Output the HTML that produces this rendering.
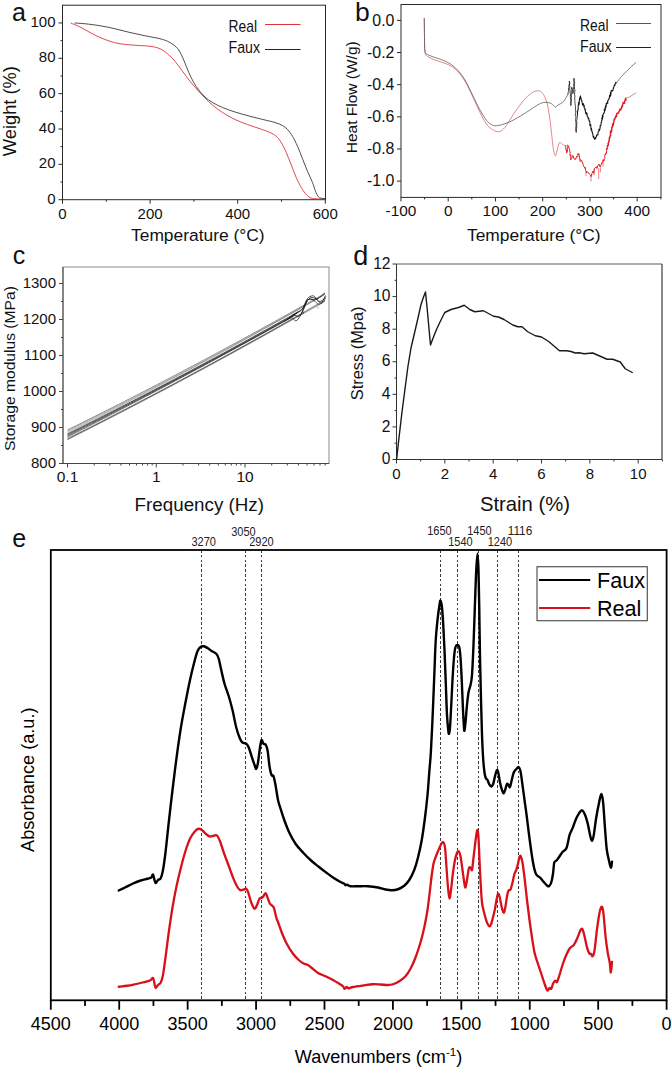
<!DOCTYPE html>
<html lang="en"><head><meta charset="utf-8"><title>Figure</title>
<style>
html,body{margin:0;padding:0;background:#fff;}
body{width:672px;height:1068px;overflow:hidden;font-family:"Liberation Sans",Arial,sans-serif;}
svg{display:block;}
svg text{font-family:"Liberation Sans",Arial,sans-serif;}
</style></head><body>
<svg width="672" height="1068" viewBox="0 0 672 1068" font-family='Liberation Sans, Arial, sans-serif'>
<rect x="62.50" y="5.20" width="263.00" height="194.50" fill="none" stroke="#2a2a2a" stroke-width="1"/>
<line x1="62.50" y1="199.70" x2="62.50" y2="203.70" stroke="#2a2a2a" stroke-width="1" />
<text x="62.50" y="219.20" font-size="15" text-anchor="middle" fill="#111" >0</text>
<line x1="106.30" y1="199.70" x2="106.30" y2="201.70" stroke="#2a2a2a" stroke-width="1" />
<line x1="150.10" y1="199.70" x2="150.10" y2="203.70" stroke="#2a2a2a" stroke-width="1" />
<text x="150.10" y="219.20" font-size="15" text-anchor="middle" fill="#111" >200</text>
<line x1="193.90" y1="199.70" x2="193.90" y2="201.70" stroke="#2a2a2a" stroke-width="1" />
<line x1="237.70" y1="199.70" x2="237.70" y2="203.70" stroke="#2a2a2a" stroke-width="1" />
<text x="237.70" y="219.20" font-size="15" text-anchor="middle" fill="#111" >400</text>
<line x1="281.50" y1="199.70" x2="281.50" y2="201.70" stroke="#2a2a2a" stroke-width="1" />
<line x1="325.30" y1="199.70" x2="325.30" y2="203.70" stroke="#2a2a2a" stroke-width="1" />
<text x="325.30" y="219.20" font-size="15" text-anchor="middle" fill="#111" >600</text>
<line x1="58.50" y1="199.70" x2="62.50" y2="199.70" stroke="#2a2a2a" stroke-width="1" />
<text x="55.50" y="203.60" font-size="15" text-anchor="end" fill="#111" >0</text>
<line x1="60.50" y1="182.02" x2="62.50" y2="182.02" stroke="#2a2a2a" stroke-width="1" />
<line x1="58.50" y1="164.35" x2="62.50" y2="164.35" stroke="#2a2a2a" stroke-width="1" />
<text x="55.50" y="168.25" font-size="15" text-anchor="end" fill="#111" >20</text>
<line x1="60.50" y1="146.67" x2="62.50" y2="146.67" stroke="#2a2a2a" stroke-width="1" />
<line x1="58.50" y1="129.00" x2="62.50" y2="129.00" stroke="#2a2a2a" stroke-width="1" />
<text x="55.50" y="132.90" font-size="15" text-anchor="end" fill="#111" >40</text>
<line x1="60.50" y1="111.32" x2="62.50" y2="111.32" stroke="#2a2a2a" stroke-width="1" />
<line x1="58.50" y1="93.65" x2="62.50" y2="93.65" stroke="#2a2a2a" stroke-width="1" />
<text x="55.50" y="97.55" font-size="15" text-anchor="end" fill="#111" >60</text>
<line x1="60.50" y1="75.97" x2="62.50" y2="75.97" stroke="#2a2a2a" stroke-width="1" />
<line x1="58.50" y1="58.30" x2="62.50" y2="58.30" stroke="#2a2a2a" stroke-width="1" />
<text x="55.50" y="62.20" font-size="15" text-anchor="end" fill="#111" >80</text>
<line x1="60.50" y1="40.62" x2="62.50" y2="40.62" stroke="#2a2a2a" stroke-width="1" />
<line x1="58.50" y1="22.95" x2="62.50" y2="22.95" stroke="#2a2a2a" stroke-width="1" />
<text x="55.50" y="26.85" font-size="15" text-anchor="end" fill="#111" >100</text>
<path d="M70.75 23.00C72.29 23.67 76.79 25.42 80.00 27.00C83.21 28.58 86.67 30.75 90.00 32.50C93.33 34.25 96.67 36.04 100.00 37.50C103.33 38.96 106.67 40.21 110.00 41.25C113.33 42.29 115.83 43.08 120.00 43.75C124.17 44.42 130.00 44.83 135.00 45.25C140.00 45.67 145.83 45.67 150.00 46.25C154.17 46.83 157.08 47.50 160.00 48.75C162.92 50.00 165.00 51.67 167.50 53.75C170.00 55.83 172.50 58.33 175.00 61.25C177.50 64.17 180.00 67.92 182.50 71.25C185.00 74.58 187.50 78.12 190.00 81.25C192.50 84.38 195.00 87.21 197.50 90.00C200.00 92.79 202.50 95.50 205.00 98.00C207.50 100.50 209.58 102.58 212.50 105.00C215.42 107.42 218.75 110.08 222.50 112.50C226.25 114.92 230.83 117.50 235.00 119.50C239.17 121.50 243.33 122.96 247.50 124.50C251.67 126.04 256.25 127.42 260.00 128.75C263.75 130.08 267.29 131.25 270.00 132.50C272.71 133.75 274.38 134.58 276.25 136.25C278.12 137.92 279.58 139.79 281.25 142.50C282.92 145.21 284.58 148.75 286.25 152.50C287.92 156.25 289.58 160.83 291.25 165.00C292.92 169.17 294.58 173.75 296.25 177.50C297.92 181.25 299.58 184.67 301.25 187.50C302.92 190.33 304.79 192.83 306.25 194.50C307.71 196.17 308.54 196.79 310.00 197.50C311.46 198.21 312.50 198.50 315.00 198.75C317.50 199.00 323.33 198.96 325.00 199.00" fill="none" stroke="#e0323a" stroke-width="0.9"/>
<path d="M74.50 23.00C76.25 23.12 80.75 23.29 85.00 23.75C89.25 24.21 95.00 24.92 100.00 25.75C105.00 26.58 110.00 27.62 115.00 28.75C120.00 29.88 125.00 31.33 130.00 32.50C135.00 33.67 140.00 34.71 145.00 35.75C150.00 36.79 156.25 37.83 160.00 38.75C163.75 39.67 165.21 40.21 167.50 41.25C169.79 42.29 171.88 43.54 173.75 45.00C175.62 46.46 177.08 47.50 178.75 50.00C180.42 52.50 182.08 56.25 183.75 60.00C185.42 63.75 187.08 68.75 188.75 72.50C190.42 76.25 192.08 79.58 193.75 82.50C195.42 85.42 196.88 87.58 198.75 90.00C200.62 92.42 202.71 94.92 205.00 97.00C207.29 99.08 209.58 100.75 212.50 102.50C215.42 104.25 218.75 105.92 222.50 107.50C226.25 109.08 230.42 110.54 235.00 112.00C239.58 113.46 245.00 114.92 250.00 116.25C255.00 117.58 260.83 118.96 265.00 120.00C269.17 121.04 272.08 121.58 275.00 122.50C277.92 123.42 280.42 124.33 282.50 125.50C284.58 126.67 285.83 127.71 287.50 129.50C289.17 131.29 290.83 133.46 292.50 136.25C294.17 139.04 295.83 142.50 297.50 146.25C299.17 150.00 300.83 154.58 302.50 158.75C304.17 162.92 305.83 167.29 307.50 171.25C309.17 175.21 311.17 179.17 312.50 182.50C313.83 185.83 314.58 188.96 315.50 191.25C316.42 193.54 317.17 195.12 318.00 196.25C318.83 197.38 319.33 197.58 320.50 198.00C321.67 198.42 324.25 198.62 325.00 198.75" fill="none" stroke="#3a3a3a" stroke-width="0.9"/>
<text x="228.50" y="32.00" font-size="16.6" text-anchor="start" fill="#111" textLength="28.5" lengthAdjust="spacingAndGlyphs">Real</text>
<line x1="265.00" y1="24.50" x2="300.50" y2="24.50" stroke="#e0323a" stroke-width="1.1" />
<text x="228.50" y="53.00" font-size="16.6" text-anchor="start" fill="#111" textLength="31.5" lengthAdjust="spacingAndGlyphs">Faux</text>
<line x1="265.00" y1="49.50" x2="300.50" y2="49.50" stroke="#222" stroke-width="1.1" />
<text x="197.80" y="241.20" font-size="17.4" text-anchor="middle" fill="#111" >Temperature (°C)</text>
<text transform="translate(15.80 111.10) rotate(-90)" font-size="18.3" text-anchor="middle" fill="#111" >Weight (%)</text>
<text x="12.00" y="20.60" font-size="25" text-anchor="start" fill="#111" >a</text>
<rect x="401.00" y="4.50" width="260.00" height="192.90" fill="none" stroke="#2a2a2a" stroke-width="1"/>
<line x1="400.95" y1="197.40" x2="400.95" y2="201.40" stroke="#2a2a2a" stroke-width="1" />
<text x="400.95" y="215.50" font-size="15.4" text-anchor="middle" fill="#111" >-100</text>
<line x1="424.57" y1="197.40" x2="424.57" y2="199.40" stroke="#2a2a2a" stroke-width="1" />
<line x1="448.20" y1="197.40" x2="448.20" y2="201.40" stroke="#2a2a2a" stroke-width="1" />
<text x="448.20" y="215.50" font-size="15.4" text-anchor="middle" fill="#111" >0</text>
<line x1="471.82" y1="197.40" x2="471.82" y2="199.40" stroke="#2a2a2a" stroke-width="1" />
<line x1="495.45" y1="197.40" x2="495.45" y2="201.40" stroke="#2a2a2a" stroke-width="1" />
<text x="495.45" y="215.50" font-size="15.4" text-anchor="middle" fill="#111" >100</text>
<line x1="519.08" y1="197.40" x2="519.08" y2="199.40" stroke="#2a2a2a" stroke-width="1" />
<line x1="542.70" y1="197.40" x2="542.70" y2="201.40" stroke="#2a2a2a" stroke-width="1" />
<text x="542.70" y="215.50" font-size="15.4" text-anchor="middle" fill="#111" >200</text>
<line x1="566.33" y1="197.40" x2="566.33" y2="199.40" stroke="#2a2a2a" stroke-width="1" />
<line x1="589.95" y1="197.40" x2="589.95" y2="201.40" stroke="#2a2a2a" stroke-width="1" />
<text x="589.95" y="215.50" font-size="15.4" text-anchor="middle" fill="#111" >300</text>
<line x1="613.58" y1="197.40" x2="613.58" y2="199.40" stroke="#2a2a2a" stroke-width="1" />
<line x1="637.20" y1="197.40" x2="637.20" y2="201.40" stroke="#2a2a2a" stroke-width="1" />
<text x="637.20" y="215.50" font-size="15.4" text-anchor="middle" fill="#111" >400</text>
<line x1="660.83" y1="197.40" x2="660.83" y2="199.40" stroke="#2a2a2a" stroke-width="1" />
<line x1="397.00" y1="20.40" x2="401.00" y2="20.40" stroke="#2a2a2a" stroke-width="1" />
<text x="394.40" y="25.60" font-size="15.9" text-anchor="end" fill="#111" >0.0</text>
<line x1="397.00" y1="52.55" x2="401.00" y2="52.55" stroke="#2a2a2a" stroke-width="1" />
<text x="394.40" y="57.75" font-size="15.9" text-anchor="end" fill="#111" >-0.2</text>
<line x1="397.00" y1="84.70" x2="401.00" y2="84.70" stroke="#2a2a2a" stroke-width="1" />
<text x="394.40" y="89.90" font-size="15.9" text-anchor="end" fill="#111" >-0.4</text>
<line x1="397.00" y1="116.85" x2="401.00" y2="116.85" stroke="#2a2a2a" stroke-width="1" />
<text x="394.40" y="122.05" font-size="15.9" text-anchor="end" fill="#111" >-0.6</text>
<line x1="397.00" y1="149.00" x2="401.00" y2="149.00" stroke="#2a2a2a" stroke-width="1" />
<text x="394.40" y="154.20" font-size="15.9" text-anchor="end" fill="#111" >-0.8</text>
<line x1="397.00" y1="181.15" x2="401.00" y2="181.15" stroke="#2a2a2a" stroke-width="1" />
<text x="394.40" y="186.35" font-size="15.9" text-anchor="end" fill="#111" >-1.0</text>
<path d="M424.25 18.00C424.29 21.25 424.38 31.75 424.50 37.50C424.62 43.25 424.50 49.38 425.00 52.50C425.50 55.62 425.83 55.00 427.50 56.25C429.17 57.50 432.50 58.96 435.00 60.00C437.50 61.04 440.00 61.58 442.50 62.50C445.00 63.42 447.50 64.04 450.00 65.50C452.50 66.96 455.00 68.62 457.50 71.25C460.00 73.88 462.50 77.08 465.00 81.25C467.50 85.42 470.00 91.04 472.50 96.25C475.00 101.46 477.71 107.92 480.00 112.50C482.29 117.08 484.38 121.04 486.25 123.75C488.12 126.46 489.38 127.42 491.25 128.75C493.12 130.08 495.62 131.54 497.50 131.75C499.38 131.96 500.83 131.33 502.50 130.00C504.17 128.67 505.62 126.46 507.50 123.75C509.38 121.04 511.67 116.88 513.75 113.75C515.83 110.62 517.92 107.71 520.00 105.00C522.08 102.29 524.17 99.58 526.25 97.50C528.33 95.42 530.62 93.62 532.50 92.50C534.38 91.38 536.04 90.83 537.50 90.75C538.96 90.67 540.08 91.08 541.25 92.00C542.42 92.92 543.46 94.08 544.50 96.25C545.54 98.42 546.58 101.04 547.50 105.00C548.42 108.96 549.25 114.58 550.00 120.00C550.75 125.42 551.38 132.29 552.00 137.50C552.62 142.71 553.17 148.21 553.75 151.25C554.33 154.29 554.88 156.17 555.50 155.75C556.12 155.33 556.83 150.96 557.50 148.75C558.17 146.54 558.75 143.29 559.50 142.50C560.25 141.71 561.03 143.38 562.00 144.00C562.97 144.62 564.75 145.88 565.30 146.25" fill="none" stroke="#d9555a" stroke-width="0.7"/>
<path d="M565.18 145.06L565.66 145.74L565.83 147.68L565.74 149.10L565.98 149.79L566.25 149.57L566.75 153.01L566.72 150.02L567.26 151.54L567.41 148.72L567.88 146.59L567.98 146.47L567.67 144.94L567.97 146.37L568.18 146.52L568.80 146.75L569.03 146.63L568.99 148.06L569.73 149.75L569.60 151.23L569.83 151.20L570.20 153.50L569.94 154.01L570.27 155.98L570.54 154.92L570.85 155.28L570.58 158.39L570.53 158.42L570.58 159.97L571.56 158.70L572.11 156.87L572.46 156.87L572.86 155.45L573.67 158.05L574.05 158.02L574.39 159.09L575.60 159.48L576.53 156.47L577.02 157.17L577.40 155.52L578.13 153.40L578.69 154.66L578.93 153.83L579.30 156.88L579.26 156.38L579.78 158.80L580.15 159.67L579.96 159.08L580.20 161.61L581.57 160.06L581.97 161.29L582.41 163.08L583.06 163.26L583.05 164.72L583.71 166.16L584.52 167.51L584.61 168.20L585.18 167.22L585.80 170.63L586.24 171.63L586.36 171.22L586.62 172.96L587.33 171.78L588.16 172.85L588.99 173.23L589.70 174.31L590.72 175.79L591.14 176.59L592.03 173.18L592.25 172.92L592.80 171.22L593.74 173.24L594.08 170.57L594.41 168.33L595.19 167.95L596.48 166.67L596.87 168.43L598.15 165.07L599.10 164.03L600.02 166.63L601.20 164.72L601.73 162.65L602.13 163.09L602.86 162.18L603.18 159.36L603.98 161.02L604.48 159.47L604.92 158.32L604.74 156.62L605.07 154.02L605.07 153.94L605.46 154.40L606.19 152.63L606.41 153.53L606.65 150.48L606.37 149.07L606.59 148.06L607.12 149.49L607.50 147.12L607.50 146.25" fill="none" stroke="#e01b24" stroke-width="1.0" stroke-linejoin="miter"/>
<path d="M607.61 147.15L607.44 145.79L608.25 145.22L608.38 143.37L608.21 143.37L608.55 142.46L609.23 140.31L609.06 141.03L609.52 137.76L609.34 136.77L610.12 137.79L609.82 136.92L610.64 135.47L610.43 134.21L610.51 131.67L611.33 132.64L611.25 132.55L611.42 131.43L611.93 128.51L611.76 127.82L611.99 127.76L612.23 126.32L612.38 126.86L612.76 124.56L613.16 124.96L613.39 124.07L613.80 121.97L614.17 119.49L614.46 119.05L614.50 119.96L614.97 118.05L615.71 117.36L615.78 116.31L616.41 116.33L616.57 114.88L617.15 113.26L617.99 113.17L618.32 113.15L619.04 111.43L619.31 110.80L619.72 110.55L620.15 109.26L620.65 109.67L621.28 108.66L621.93 105.99L622.14 107.23L622.80 104.01L622.75 104.13L623.17 102.72L623.63 103.21L624.58 103.09L624.60 101.75L625.41 99.23L625.87 100.75L625.90 98.40" fill="none" stroke="#e01b24" stroke-width="1.5" stroke-linejoin="miter"/>
<path d="M625.90 98.40L630.00 96.60L636.20 92.80" fill="none" stroke="#d9555a" stroke-width="0.7"/>
<line x1="591.00" y1="176.00" x2="591.00" y2="181.50" stroke="#e01b24" stroke-width="0.55" />
<line x1="598.70" y1="168.00" x2="598.70" y2="179.00" stroke="#e01b24" stroke-width="0.55" />
<line x1="600.40" y1="166.00" x2="600.40" y2="172.50" stroke="#e01b24" stroke-width="0.55" />
<line x1="586.00" y1="171.00" x2="586.00" y2="176.00" stroke="#e01b24" stroke-width="0.55" />
<line x1="594.20" y1="169.00" x2="594.20" y2="175.00" stroke="#e01b24" stroke-width="0.55" />
<line x1="603.00" y1="160.00" x2="603.00" y2="167.00" stroke="#e01b24" stroke-width="0.55" />
<path d="M424.25 18.00C424.29 21.25 424.38 31.96 424.50 37.50C424.62 43.04 424.50 48.42 425.00 51.25C425.50 54.08 425.83 53.46 427.50 54.50C429.17 55.54 432.50 56.58 435.00 57.50C437.50 58.42 440.00 58.96 442.50 60.00C445.00 61.04 447.50 62.08 450.00 63.75C452.50 65.42 455.00 67.29 457.50 70.00C460.00 72.71 462.50 75.83 465.00 80.00C467.50 84.17 470.00 90.00 472.50 95.00C475.00 100.00 477.71 105.83 480.00 110.00C482.29 114.17 484.38 117.58 486.25 120.00C488.12 122.42 489.58 123.54 491.25 124.50C492.92 125.46 494.38 125.75 496.25 125.75C498.12 125.75 500.21 125.17 502.50 124.50C504.79 123.83 507.08 123.12 510.00 121.75C512.92 120.38 516.67 118.21 520.00 116.25C523.33 114.29 527.08 111.88 530.00 110.00C532.92 108.12 535.21 106.25 537.50 105.00C539.79 103.75 541.67 102.83 543.75 102.50C545.83 102.17 548.46 102.58 550.00 103.00C551.54 103.42 552.08 104.33 553.00 105.00C553.92 105.67 554.67 107.00 555.50 107.00C556.33 107.00 556.83 105.75 558.00 105.00C559.17 104.25 561.25 103.54 562.50 102.50C563.75 101.46 564.57 100.21 565.50 98.75C566.43 97.29 567.67 94.58 568.10 93.75" fill="none" stroke="#4a4a4a" stroke-width="0.7"/>
<path d="M567.90 94.47L568.22 92.20L568.82 91.22L568.43 89.05L568.86 87.37L568.82 85.80L569.38 83.79L569.45 82.94L569.26 81.23L569.79 83.12L569.50 85.48L570.10 87.05L569.72 87.52L569.78 89.95L570.04 90.51L570.25 93.36L570.62 93.91L570.25 96.57L570.65 97.82L570.41 98.29L570.93 100.38L570.60 102.70L571.09 103.98L570.81 105.57L570.87 104.03L571.21 101.65L571.36 101.05L571.23 98.22L571.48 96.85L571.26 95.19L571.29 93.70L571.55 92.32L571.94 90.75L571.83 89.03L571.79 87.23L572.09 89.14L572.80 91.92L572.78 93.71L573.43 91.53L573.48 90.45L573.39 89.50L573.45 87.38L573.78 86.55L573.67 84.71L574.05 82.80L573.97 80.75L573.86 78.80L574.00 78.19L574.18 78.78L574.12 81.38L574.72 82.62L574.36 83.45L574.42 85.31L574.38 86.81L574.51 89.15L575.06 90.00L574.61 92.18L574.71 92.72L574.54 94.28L574.93 95.99L574.79 97.51L574.70 98.69L574.81 100.46L574.83 101.42L575.06 103.32L575.31 105.36L575.48 107.13L575.50 109.04L575.32 109.72L575.79 111.00L575.66 113.35L575.23 115.22L575.87 116.45L575.82 118.34L575.47 119.48L575.78 121.57L576.05 123.15L575.96 124.85L576.09 126.13L575.83 126.66L575.82 128.79L575.86 131.14L576.24 132.40L576.38 130.89L576.37 128.22L576.68 127.81L576.56 125.88L576.76 123.53L576.91 122.23L576.53 120.66L577.08 118.97L577.18 118.61L577.10 116.25" fill="none" stroke="#111" stroke-width="0.8" stroke-linejoin="miter"/>
<path d="M577.10 115.90L577.19 115.86L577.50 114.73L577.52 112.17L577.29 111.76L577.81 110.98L577.80 109.16L577.55 108.99L578.09 109.33L578.20 107.19L578.19 106.77L578.27 104.79L578.68 104.10L578.95 105.36L578.48 102.99L579.26 103.57L579.21 100.53L579.25 101.61L579.46 99.58L579.63 98.46L580.41 96.34L580.52 96.53L580.89 98.06L580.75 99.59L581.24 97.92L581.22 100.28L581.85 100.66L581.95 101.73L582.42 104.16L582.55 104.83L583.49 103.87L583.90 106.59L584.23 106.26L584.21 107.50L585.00 109.03L584.90 109.48L585.24 109.28L585.52 112.58L586.05 113.81L586.42 112.74L587.01 113.45L587.31 116.68L588.07 117.19L588.15 118.42L588.62 118.26L588.72 117.69L588.98 119.83L589.25 121.34L589.18 120.49L589.88 121.65L589.82 123.24L589.95 125.35L590.68 124.85L590.71 125.90L590.90 127.13L590.88 127.37L591.16 130.55L591.62 129.44L592.16 132.71L592.10 131.09L592.17 131.88L592.53 132.83L592.72 134.28L593.32 137.10L593.81 136.62L593.95 137.89L594.29 138.27L594.44 139.03L595.57 137.64L595.73 138.21L596.47 136.03L596.55 135.19L597.13 134.84L597.86 135.10L598.15 131.68L597.90 132.80L598.85 131.15L598.98 128.79L599.18 130.62L599.83 129.47L600.19 126.71L599.84 125.50L600.38 126.15L600.93 125.33L600.98 124.53L601.10 122.95L601.07 122.71L601.46 122.19L602.00 119.41L601.89 118.32L602.50 118.72L602.39 115.90L602.94 116.50L603.09 114.49L603.50 112.91L603.54 113.33L604.26 112.94L604.46 111.50L604.26 109.88L605.02 110.31L604.92 107.33L605.40 108.35L605.69 106.16L606.22 107.23L606.26 103.61L606.69 103.84L607.28 102.23L607.71 102.92L607.85 100.38L608.53 99.76L608.77 98.58L608.71 99.23L609.11 98.87L609.60 95.64L609.76 95.39L610.42 96.05L610.45 93.44L610.90 94.24L611.25 90.53L611.59 90.61L612.58 91.14L612.86 90.54L613.40 87.59L613.42 88.61L614.36 85.10L614.84 85.34L615.18 84.40L615.58 82.61L616.20 82.85L616.90 82.50" fill="none" stroke="#111" stroke-width="1.05" stroke-linejoin="miter"/>
<path d="M616.90 82.50L620.60 77.40L626.25 71.60L631.90 66.00L636.20 62.25" fill="none" stroke="#4a4a4a" stroke-width="0.7"/>
<text x="580.00" y="30.50" font-size="16.6" text-anchor="start" fill="#111" textLength="28.5" lengthAdjust="spacingAndGlyphs">Real</text>
<line x1="616.00" y1="23.50" x2="651.00" y2="23.50" stroke="#e01b24" stroke-width="1.1" />
<text x="580.00" y="52.00" font-size="16.6" text-anchor="start" fill="#111" textLength="31.5" lengthAdjust="spacingAndGlyphs">Faux</text>
<line x1="616.00" y1="47.50" x2="651.00" y2="47.50" stroke="#222" stroke-width="1.1" />
<text x="533.75" y="241.20" font-size="17.4" text-anchor="middle" fill="#111" >Temperature (°C)</text>
<text transform="translate(357.00 97.30) rotate(-90)" font-size="15.5" text-anchor="middle" fill="#111" >Heat Flow (W/g)</text>
<text x="355.00" y="21.00" font-size="26.5" text-anchor="start" fill="#111" >b</text>
<rect x="63.00" y="267.00" width="266.00" height="196.50" fill="none" stroke="#8a8a8a" stroke-width="1"/>
<line x1="63.00" y1="267.00" x2="63.00" y2="463.50" stroke="#444" stroke-width="1" />
<line x1="63.00" y1="463.50" x2="329.00" y2="463.50" stroke="#444" stroke-width="1" />
<line x1="59.00" y1="463.50" x2="63.00" y2="463.50" stroke="#444" stroke-width="1" />
<text x="56.00" y="468.30" font-size="15" text-anchor="end" fill="#111" >800</text>
<line x1="61.00" y1="445.50" x2="63.00" y2="445.50" stroke="#444" stroke-width="1" />
<line x1="59.00" y1="427.50" x2="63.00" y2="427.50" stroke="#444" stroke-width="1" />
<text x="56.00" y="432.30" font-size="15" text-anchor="end" fill="#111" >900</text>
<line x1="61.00" y1="409.50" x2="63.00" y2="409.50" stroke="#444" stroke-width="1" />
<line x1="59.00" y1="391.50" x2="63.00" y2="391.50" stroke="#444" stroke-width="1" />
<text x="56.00" y="396.30" font-size="15" text-anchor="end" fill="#111" >1000</text>
<line x1="61.00" y1="373.50" x2="63.00" y2="373.50" stroke="#444" stroke-width="1" />
<line x1="59.00" y1="355.50" x2="63.00" y2="355.50" stroke="#444" stroke-width="1" />
<text x="56.00" y="360.30" font-size="15" text-anchor="end" fill="#111" >1100</text>
<line x1="61.00" y1="337.50" x2="63.00" y2="337.50" stroke="#444" stroke-width="1" />
<line x1="59.00" y1="319.50" x2="63.00" y2="319.50" stroke="#444" stroke-width="1" />
<text x="56.00" y="324.30" font-size="15" text-anchor="end" fill="#111" >1200</text>
<line x1="61.00" y1="301.50" x2="63.00" y2="301.50" stroke="#444" stroke-width="1" />
<line x1="59.00" y1="283.50" x2="63.00" y2="283.50" stroke="#444" stroke-width="1" />
<text x="56.00" y="288.30" font-size="15" text-anchor="end" fill="#111" >1300</text>
<line x1="67.50" y1="463.50" x2="67.50" y2="467.50" stroke="#444" stroke-width="1" />
<text x="67.50" y="481.80" font-size="15.5" text-anchor="middle" fill="#111" >0.1</text>
<line x1="94.22" y1="463.50" x2="94.22" y2="465.50" stroke="#444" stroke-width="1" />
<line x1="109.84" y1="463.50" x2="109.84" y2="465.50" stroke="#444" stroke-width="1" />
<line x1="120.93" y1="463.50" x2="120.93" y2="465.50" stroke="#444" stroke-width="1" />
<line x1="129.53" y1="463.50" x2="129.53" y2="465.50" stroke="#444" stroke-width="1" />
<line x1="136.56" y1="463.50" x2="136.56" y2="465.50" stroke="#444" stroke-width="1" />
<line x1="142.50" y1="463.50" x2="142.50" y2="465.50" stroke="#444" stroke-width="1" />
<line x1="147.65" y1="463.50" x2="147.65" y2="465.50" stroke="#444" stroke-width="1" />
<line x1="152.19" y1="463.50" x2="152.19" y2="465.50" stroke="#444" stroke-width="1" />
<line x1="156.25" y1="463.50" x2="156.25" y2="467.50" stroke="#444" stroke-width="1" />
<text x="156.25" y="481.80" font-size="15.5" text-anchor="middle" fill="#111" >1</text>
<line x1="182.97" y1="463.50" x2="182.97" y2="465.50" stroke="#444" stroke-width="1" />
<line x1="198.59" y1="463.50" x2="198.59" y2="465.50" stroke="#444" stroke-width="1" />
<line x1="209.68" y1="463.50" x2="209.68" y2="465.50" stroke="#444" stroke-width="1" />
<line x1="218.28" y1="463.50" x2="218.28" y2="465.50" stroke="#444" stroke-width="1" />
<line x1="225.31" y1="463.50" x2="225.31" y2="465.50" stroke="#444" stroke-width="1" />
<line x1="231.25" y1="463.50" x2="231.25" y2="465.50" stroke="#444" stroke-width="1" />
<line x1="236.40" y1="463.50" x2="236.40" y2="465.50" stroke="#444" stroke-width="1" />
<line x1="240.94" y1="463.50" x2="240.94" y2="465.50" stroke="#444" stroke-width="1" />
<line x1="245.00" y1="463.50" x2="245.00" y2="467.50" stroke="#444" stroke-width="1" />
<text x="245.00" y="481.80" font-size="15.5" text-anchor="middle" fill="#111" >10</text>
<line x1="271.72" y1="463.50" x2="271.72" y2="465.50" stroke="#444" stroke-width="1" />
<line x1="287.34" y1="463.50" x2="287.34" y2="465.50" stroke="#444" stroke-width="1" />
<line x1="298.43" y1="463.50" x2="298.43" y2="465.50" stroke="#444" stroke-width="1" />
<line x1="307.03" y1="463.50" x2="307.03" y2="465.50" stroke="#444" stroke-width="1" />
<line x1="314.06" y1="463.50" x2="314.06" y2="465.50" stroke="#444" stroke-width="1" />
<line x1="320.00" y1="463.50" x2="320.00" y2="465.50" stroke="#444" stroke-width="1" />
<line x1="325.15" y1="463.50" x2="325.15" y2="465.50" stroke="#444" stroke-width="1" />
<path d="M67.50 429.94L70.49 428.46L73.49 426.98L76.48 425.50L79.48 424.01L82.47 422.53L85.47 421.04L88.46 419.54L91.45 418.05L94.45 416.55L97.44 415.05L100.44 413.55L103.43 412.04L106.42 410.53L109.42 409.02L112.41 407.51L115.41 405.99L118.40 404.47L121.40 402.95L124.39 401.42L127.38 399.90L130.38 398.37L133.37 396.84L136.37 395.30L139.36 393.76L142.35 392.22L145.35 390.68L148.34 389.13L151.34 387.59L154.33 386.04L157.33 384.48L160.32 382.93L163.31 381.37L166.31 379.81L169.30 378.24L172.30 376.68L175.29 375.11L178.28 373.53L181.28 371.96L184.27 370.38L187.27 368.80L190.26 367.22L193.26 365.64L196.25 364.05L199.24 362.46L202.24 360.86L205.23 359.27L208.23 357.67L211.22 356.07L214.22 354.47L217.21 352.86L220.20 351.25L223.20 349.64L226.19 348.03L229.19 346.41L232.18 344.79L235.17 343.17L238.17 341.54L241.16 339.92L244.16 338.29L247.15 336.65L250.15 335.02L253.14 333.38L256.13 331.74L259.13 330.10L262.12 328.45L265.12 326.80L268.11 325.15L271.10 323.50L274.10 321.84L277.09 320.18L280.09 318.52L283.08 316.86L286.08 315.19L289.07 313.52L292.06 311.85L295.06 310.17L298.05 308.49L301.05 306.81L304.04 305.13L304.04 305.13" fill="none" stroke="#2a2a2a" stroke-width="0.55"/>
<path d="M303.04 305.69L306.04 304.01L309.03 302.32L312.03 300.63L315.02 298.94L318.01 297.24L321.01 295.55L324.00 293.85L325.00 293.28" fill="none" stroke="#505050" stroke-width="0.5"/>
<path d="M67.50 430.91L70.49 429.45L73.49 427.98L76.48 426.50L79.48 425.03L82.47 423.55L85.47 422.07L88.46 420.58L91.45 419.10L94.45 417.61L97.44 416.12L100.44 414.62L103.43 413.12L106.42 411.62L109.42 410.12L112.41 408.61L115.41 407.10L118.40 405.59L121.40 404.07L124.39 402.55L127.38 401.03L130.38 399.50L133.37 397.98L136.37 396.45L139.36 394.91L142.35 393.38L145.35 391.84L148.34 390.30L151.34 388.75L154.33 387.20L157.33 385.65L160.32 384.10L163.31 382.54L166.31 380.98L169.30 379.42L172.30 377.86L175.29 376.29L178.28 374.72L181.28 373.14L184.27 371.57L187.27 369.99L190.26 368.40L193.26 366.82L196.25 365.23L199.24 363.64L202.24 362.04L205.23 360.45L208.23 358.85L211.22 357.24L214.22 355.64L217.21 354.03L220.20 352.42L223.20 350.80L226.19 349.19L229.19 347.57L232.18 345.94L235.17 344.32L238.17 342.69L241.16 341.06L244.16 339.42L247.15 337.78L250.15 336.14L253.14 334.50L256.13 332.85L259.13 331.20L262.12 329.55L265.12 327.90L268.11 326.24L271.10 324.58L274.10 322.92L277.09 321.25L280.09 319.58L283.08 317.91L286.08 316.23L289.07 314.55L292.06 312.87L295.06 311.19L298.05 309.50L301.05 307.81L304.04 306.12L304.04 306.12" fill="none" stroke="#484848" stroke-width="0.45"/>
<path d="M303.04 306.68L306.04 304.99L309.03 303.29L312.03 301.59L315.02 299.89L318.01 298.18L321.01 296.47L324.00 294.76L325.00 294.19" fill="none" stroke="#505050" stroke-width="0.5"/>
<path d="M67.50 432.30L70.49 430.81L73.49 429.33L76.48 427.84L79.48 426.35L82.47 424.86L85.47 423.36L88.46 421.86L91.45 420.36L94.45 418.85L97.44 417.34L100.44 415.83L103.43 414.32L106.42 412.80L109.42 411.28L112.41 409.76L115.41 408.24L118.40 406.71L121.40 405.18L124.39 403.64L127.38 402.11L130.38 400.57L133.37 399.02L136.37 397.48L139.36 395.93L142.35 394.38L145.35 392.83L148.34 391.27L151.34 389.71L154.33 388.15L157.33 386.58L160.32 385.01L163.31 383.44L166.31 381.87L169.30 380.29L172.30 378.71L175.29 377.13L178.28 375.55L181.28 373.96L184.27 372.37L187.27 370.78L190.26 369.18L193.26 367.58L196.25 365.98L199.24 364.37L202.24 362.76L205.23 361.15L208.23 359.54L211.22 357.92L214.22 356.30L217.21 354.68L220.20 353.06L223.20 351.43L226.19 349.80L229.19 348.17L232.18 346.53L235.17 344.89L238.17 343.25L241.16 341.60L244.16 339.96L247.15 338.30L250.15 336.65L253.14 335.00L256.13 333.34L259.13 331.67L262.12 330.01L265.12 328.34L268.11 326.67L271.10 325.00L274.10 323.32L277.09 321.64L280.09 319.96L283.08 318.28L286.08 316.59L289.07 314.90L292.06 313.20L295.06 311.51L298.05 309.81L301.05 308.11L304.04 306.40L304.04 306.40" fill="none" stroke="#484848" stroke-width="0.45"/>
<path d="M303.04 306.97L306.04 305.26L309.03 303.55L312.03 301.84L315.02 300.13L318.01 298.41L321.01 296.69L324.00 294.96L325.00 294.39" fill="none" stroke="#505050" stroke-width="0.5"/>
<path d="M67.50 433.79L70.49 432.31L73.49 430.83L76.48 429.34L79.48 427.85L82.47 426.36L85.47 424.86L88.46 423.37L91.45 421.86L94.45 420.36L97.44 418.86L100.44 417.35L103.43 415.84L106.42 414.32L109.42 412.81L112.41 411.29L115.41 409.77L118.40 408.24L121.40 406.71L124.39 405.18L127.38 403.65L130.38 402.12L133.37 400.58L136.37 399.04L139.36 397.50L142.35 395.95L145.35 394.40L148.34 392.85L151.34 391.30L154.33 389.74L157.33 388.18L160.32 386.62L163.31 385.05L166.31 383.49L169.30 381.91L172.30 380.34L175.29 378.77L178.28 377.19L181.28 375.61L184.27 374.02L187.27 372.44L190.26 370.85L193.26 369.26L196.25 367.66L199.24 366.07L202.24 364.47L205.23 362.86L208.23 361.26L211.22 359.65L214.22 358.04L217.21 356.43L220.20 354.81L223.20 353.19L226.19 351.57L229.19 349.95L232.18 348.32L235.17 346.69L238.17 345.06L241.16 343.43L244.16 341.79L247.15 340.15L250.15 338.51L253.14 336.86L256.13 335.21L259.13 333.56L262.12 331.91L265.12 330.25L268.11 328.60L271.10 326.93L274.10 325.27L277.09 323.60L280.09 321.93L283.08 320.26L286.08 318.59L289.07 316.91L292.06 315.23L295.06 313.55L298.05 311.86L299.05 311.30" fill="none" stroke="#050505" stroke-width="0.62"/>
<path d="M292.06 315.23C293.23 314.58 297.10 312.59 299.05 311.30C301.00 310.01 302.34 309.63 303.75 307.50C305.16 305.37 306.04 300.45 307.50 298.50C308.96 296.55 311.25 296.05 312.50 295.80C313.75 295.55 314.08 296.22 315.00 297.00C315.92 297.78 316.92 299.42 318.00 300.50C319.08 301.58 320.25 303.87 321.50 303.50C322.75 303.13 324.83 299.17 325.50 298.30" fill="none" stroke="#151515" stroke-width="0.75"/>
<path d="M67.50 434.71L70.49 433.22L73.49 431.72L76.48 430.22L79.48 428.72L82.47 427.22L85.47 425.72L88.46 424.21L91.45 422.70L94.45 421.19L97.44 419.67L100.44 418.16L103.43 416.64L106.42 415.11L109.42 413.59L112.41 412.06L115.41 410.53L118.40 409.00L121.40 407.47L124.39 405.93L127.38 404.39L130.38 402.85L133.37 401.31L136.37 399.76L139.36 398.21L142.35 396.66L145.35 395.11L148.34 393.55L151.34 391.99L154.33 390.43L157.33 388.87L160.32 387.30L163.31 385.73L166.31 384.16L169.30 382.59L172.30 381.01L175.29 379.43L178.28 377.85L181.28 376.27L184.27 374.68L187.27 373.09L190.26 371.50L193.26 369.91L196.25 368.32L199.24 366.72L202.24 365.12L205.23 363.51L208.23 361.91L211.22 360.30L214.22 358.69L217.21 357.08L220.20 355.46L223.20 353.85L226.19 352.23L229.19 350.60L232.18 348.98L235.17 347.35L238.17 345.72L241.16 344.09L244.16 342.45L247.15 340.82L250.15 339.18L253.14 337.53L256.13 335.89L259.13 334.24L262.12 332.59L265.12 330.94L268.11 329.29L271.10 327.63L274.10 325.97L277.09 324.31L280.09 322.65L283.08 320.98L286.08 319.31L289.07 317.64L292.06 315.96L295.06 314.29L297.05 313.17" fill="none" stroke="#050505" stroke-width="0.62"/>
<path d="M290.07 317.08C291.23 316.43 294.98 314.52 297.05 313.17C299.13 311.82 300.93 311.11 302.50 309.00C304.07 306.89 305.17 302.08 306.50 300.50C307.83 298.92 308.92 299.75 310.50 299.50C312.08 299.25 314.42 299.42 316.00 299.00C317.58 298.58 318.50 298.03 320.00 297.00C321.50 295.97 324.17 293.50 325.00 292.80" fill="none" stroke="#151515" stroke-width="0.75"/>
<path d="M67.50 435.66L70.49 434.16L73.49 432.65L76.48 431.14L79.48 429.63L82.47 428.12L85.47 426.61L88.46 425.09L91.45 423.57L94.45 422.05L97.44 420.53L100.44 419.00L103.43 417.48L106.42 415.95L109.42 414.41L112.41 412.88L115.41 411.34L118.40 409.80L121.40 408.26L124.39 406.72L127.38 405.17L130.38 403.63L133.37 402.08L136.37 400.52L139.36 398.97L142.35 397.41L145.35 395.85L148.34 394.29L151.34 392.73L154.33 391.16L157.33 389.59L160.32 388.02L163.31 386.45L166.31 384.87L169.30 383.30L172.30 381.72L175.29 380.14L178.28 378.55L181.28 376.97L184.27 375.38L187.27 373.79L190.26 372.19L193.26 370.60L196.25 369.00L199.24 367.40L202.24 365.80L205.23 364.19L208.23 362.59L211.22 360.98L214.22 359.37L217.21 357.75L220.20 356.14L223.20 354.52L226.19 352.90L229.19 351.28L232.18 349.65L235.17 348.03L238.17 346.40L241.16 344.77L244.16 343.13L247.15 341.50L250.15 339.86L253.14 338.22L256.13 336.57L259.13 334.93L262.12 333.28L265.12 331.63L268.11 329.98L271.10 328.33L274.10 326.67L277.09 325.01L280.09 323.35L283.08 321.69L286.08 320.02L289.07 318.35L292.06 316.68L294.06 315.57" fill="none" stroke="#050505" stroke-width="0.62"/>
<path d="M287.07 319.47C288.24 318.82 291.99 316.15 294.06 315.57C296.13 314.99 297.93 317.10 299.50 316.00C301.07 314.90 302.25 311.42 303.50 309.00C304.75 306.58 305.75 303.42 307.00 301.50C308.25 299.58 309.58 298.00 311.00 297.50C312.42 297.00 314.17 297.83 315.50 298.50C316.83 299.17 317.75 301.25 319.00 301.50C320.25 301.75 321.83 300.83 323.00 300.00C324.17 299.17 325.50 297.08 326.00 296.50" fill="none" stroke="#151515" stroke-width="0.75"/>
<path d="M67.50 436.88L70.49 435.36L73.49 433.83L76.48 432.31L79.48 430.78L82.47 429.25L85.47 427.72L88.46 426.19L91.45 424.65L94.45 423.11L97.44 421.57L100.44 420.03L103.43 418.49L106.42 416.94L109.42 415.39L112.41 413.84L115.41 412.29L118.40 410.74L121.40 409.18L124.39 407.62L127.38 406.06L130.38 404.50L133.37 402.93L136.37 401.37L139.36 399.80L142.35 398.23L145.35 396.65L148.34 395.08L151.34 393.50L154.33 391.92L157.33 390.34L160.32 388.76L163.31 387.17L166.31 385.59L169.30 384.00L172.30 382.41L175.29 380.81L178.28 379.22L181.28 377.62L184.27 376.02L187.27 374.42L190.26 372.82L193.26 371.21L196.25 369.60L199.24 367.99L202.24 366.38L205.23 364.77L208.23 363.15L211.22 361.53L214.22 359.91L217.21 358.29L220.20 356.67L223.20 355.04L226.19 353.41L229.19 351.78L232.18 350.15L235.17 348.52L238.17 346.88L241.16 345.24L244.16 343.60L247.15 341.96L250.15 340.31L253.14 338.67L256.13 337.02L259.13 335.37L262.12 333.71L265.12 332.06L268.11 330.40L271.10 328.74L274.10 327.08L277.09 325.42L280.09 323.75L283.08 322.09L286.08 320.42L289.07 318.75L291.07 317.63" fill="none" stroke="#050505" stroke-width="0.62"/>
<path d="M284.08 321.53C285.24 320.88 289.11 317.74 291.07 317.63C293.02 317.53 294.34 321.09 295.80 320.90C297.26 320.71 298.52 318.40 299.80 316.50C301.08 314.60 302.38 311.92 303.50 309.50C304.62 307.08 305.50 303.75 306.50 302.00C307.50 300.25 308.25 299.25 309.50 299.00C310.75 298.75 312.50 299.62 314.00 300.50C315.50 301.38 317.17 304.05 318.50 304.30C319.83 304.55 320.83 303.47 322.00 302.00C323.17 300.53 324.92 296.58 325.50 295.50" fill="none" stroke="#151515" stroke-width="0.75"/>
<path d="M67.50 438.27L70.49 436.78L73.49 435.29L76.48 433.79L79.48 432.29L82.47 430.79L85.47 429.29L88.46 427.78L91.45 426.27L94.45 424.76L97.44 423.24L100.44 421.72L103.43 420.20L106.42 418.68L109.42 417.15L112.41 415.62L115.41 414.09L118.40 412.55L121.40 411.01L124.39 409.47L127.38 407.93L130.38 406.38L133.37 404.83L136.37 403.28L139.36 401.73L142.35 400.17L145.35 398.61L148.34 397.04L151.34 395.48L154.33 393.91L157.33 392.34L160.32 390.76L163.31 389.19L166.31 387.61L169.30 386.02L172.30 384.44L175.29 382.85L178.28 381.26L181.28 379.66L184.27 378.06L187.27 376.47L190.26 374.86L193.26 373.26L196.25 371.65L199.24 370.04L202.24 368.42L205.23 366.81L208.23 365.19L211.22 363.56L214.22 361.94L217.21 360.31L220.20 358.68L223.20 357.05L226.19 355.41L229.19 353.77L232.18 352.13L235.17 350.48L238.17 348.84L241.16 347.18L244.16 345.53L247.15 343.88L250.15 342.22L253.14 340.55L256.13 338.89L259.13 337.22L262.12 335.55L265.12 333.88L268.11 332.20L271.10 330.52L274.10 328.84L277.09 327.16L280.09 325.47L283.08 323.78L286.08 322.09L289.07 320.39L292.06 318.69L295.06 316.99L298.05 315.29L301.05 313.58L304.04 311.87L304.04 311.87" fill="none" stroke="#484848" stroke-width="0.45"/>
<path d="M303.04 312.44L306.04 310.73L309.03 309.02L312.03 307.30L315.02 305.58L318.01 303.86L321.01 302.13L324.00 300.40L325.00 299.83" fill="none" stroke="#505050" stroke-width="0.5"/>
<path d="M67.50 439.17L70.49 437.67L73.49 436.17L76.48 434.66L79.48 433.15L82.47 431.63L85.47 430.12L88.46 428.60L91.45 427.08L94.45 425.55L97.44 424.03L100.44 422.50L103.43 420.97L106.42 419.43L109.42 417.90L112.41 416.36L115.41 414.82L118.40 413.27L121.40 411.72L124.39 410.17L127.38 408.62L130.38 407.07L133.37 405.51L136.37 403.95L139.36 402.39L142.35 400.83L145.35 399.26L148.34 397.69L151.34 396.12L154.33 394.54L157.33 392.96L160.32 391.38L163.31 389.80L166.31 388.22L169.30 386.63L172.30 385.04L175.29 383.44L178.28 381.85L181.28 380.25L184.27 378.65L187.27 377.05L190.26 375.44L193.26 373.83L196.25 372.22L199.24 370.61L202.24 368.99L205.23 367.38L208.23 365.75L211.22 364.13L214.22 362.50L217.21 360.88L220.20 359.24L223.20 357.61L226.19 355.97L229.19 354.34L232.18 352.69L235.17 351.05L238.17 349.40L241.16 347.75L244.16 346.10L247.15 344.45L250.15 342.79L253.14 341.13L256.13 339.47L259.13 337.81L262.12 336.14L265.12 334.47L268.11 332.80L271.10 331.12L274.10 329.45L277.09 327.77L280.09 326.08L283.08 324.40L286.08 322.71L289.07 321.02L292.06 319.33L295.06 317.63L298.05 315.93L301.05 314.23L304.04 312.53L304.04 312.53" fill="none" stroke="#050505" stroke-width="0.62"/>
<path d="M303.04 313.10L306.04 311.39L309.03 309.69L312.03 307.98L315.02 306.27L318.01 304.55L321.01 302.83L324.00 301.11L325.00 300.54" fill="none" stroke="#505050" stroke-width="0.5"/>
<path d="M67.50 439.73L70.49 438.23L73.49 436.72L76.48 435.21L79.48 433.69L82.47 432.18L85.47 430.66L88.46 429.14L91.45 427.61L94.45 426.09L97.44 424.56L100.44 423.03L103.43 421.50L106.42 419.96L109.42 418.42L112.41 416.88L115.41 415.34L118.40 413.79L121.40 412.25L124.39 410.70L127.38 409.14L130.38 407.59L133.37 406.03L136.37 404.47L139.36 402.91L142.35 401.35L145.35 399.78L148.34 398.21L151.34 396.64L154.33 395.07L157.33 393.49L160.32 391.91L163.31 390.33L166.31 388.75L169.30 387.16L172.30 385.57L175.29 383.98L178.28 382.39L181.28 380.79L184.27 379.19L187.27 377.59L190.26 375.99L193.26 374.39L196.25 372.78L199.24 371.17L202.24 369.56L205.23 367.94L208.23 366.32L211.22 364.70L214.22 363.08L217.21 361.46L220.20 359.83L223.20 358.20L226.19 356.57L229.19 354.94L232.18 353.30L235.17 351.66L238.17 350.02L241.16 348.37L244.16 346.73L247.15 345.08L250.15 343.43L253.14 341.78L256.13 340.12L259.13 338.46L262.12 336.80L265.12 335.14L268.11 333.47L271.10 331.80L274.10 330.13L277.09 328.46L280.09 326.79L283.08 325.11L286.08 323.43L289.07 321.75L292.06 320.06L295.06 318.37L298.05 316.68L301.05 314.99L304.04 313.30L304.04 313.30" fill="none" stroke="#484848" stroke-width="0.45"/>
<path d="M303.04 313.86L306.04 312.17L309.03 310.47L312.03 308.77L315.02 307.07L318.01 305.36L321.01 303.65L324.00 301.94L325.00 301.37" fill="none" stroke="#505050" stroke-width="0.5"/>
<path d="M316.3 305 L318.5 308.8" fill="none" stroke="#888" stroke-width="0.5"/>
<text x="199.30" y="511.00" font-size="18.8" text-anchor="middle" fill="#111" >Frequency (Hz)</text>
<text transform="translate(15.40 368.60) rotate(-90)" font-size="15.2" text-anchor="middle" fill="#111" textLength="165" lengthAdjust="spacingAndGlyphs">Storage modulus (MPa)</text>
<text x="12.70" y="264.30" font-size="25" text-anchor="start" fill="#111" >c</text>
<line x1="396.50" y1="264.00" x2="662.00" y2="264.00" stroke="#5a5a5a" stroke-width="1" />
<line x1="662.00" y1="264.00" x2="662.00" y2="459.50" stroke="#2a2a2a" stroke-width="1.1" />
<line x1="396.50" y1="264.00" x2="396.50" y2="459.50" stroke="#333" stroke-width="1" />
<line x1="396.50" y1="459.50" x2="662.00" y2="459.50" stroke="#333" stroke-width="1" />
<line x1="396.50" y1="459.50" x2="396.50" y2="463.50" stroke="#333" stroke-width="1" />
<text x="396.50" y="478.80" font-size="15" text-anchor="middle" fill="#111" >0</text>
<line x1="420.67" y1="459.50" x2="420.67" y2="461.50" stroke="#333" stroke-width="1" />
<line x1="444.84" y1="459.50" x2="444.84" y2="463.50" stroke="#333" stroke-width="1" />
<text x="444.84" y="478.80" font-size="15" text-anchor="middle" fill="#111" >2</text>
<line x1="469.01" y1="459.50" x2="469.01" y2="461.50" stroke="#333" stroke-width="1" />
<line x1="493.18" y1="459.50" x2="493.18" y2="463.50" stroke="#333" stroke-width="1" />
<text x="493.18" y="478.80" font-size="15" text-anchor="middle" fill="#111" >4</text>
<line x1="517.35" y1="459.50" x2="517.35" y2="461.50" stroke="#333" stroke-width="1" />
<line x1="541.52" y1="459.50" x2="541.52" y2="463.50" stroke="#333" stroke-width="1" />
<text x="541.52" y="478.80" font-size="15" text-anchor="middle" fill="#111" >6</text>
<line x1="565.69" y1="459.50" x2="565.69" y2="461.50" stroke="#333" stroke-width="1" />
<line x1="589.86" y1="459.50" x2="589.86" y2="463.50" stroke="#333" stroke-width="1" />
<text x="589.86" y="478.80" font-size="15" text-anchor="middle" fill="#111" >8</text>
<line x1="614.03" y1="459.50" x2="614.03" y2="461.50" stroke="#333" stroke-width="1" />
<line x1="638.20" y1="459.50" x2="638.20" y2="463.50" stroke="#333" stroke-width="1" />
<text x="638.20" y="478.80" font-size="15" text-anchor="middle" fill="#111" >10</text>
<line x1="662.37" y1="459.50" x2="662.37" y2="461.50" stroke="#333" stroke-width="1" />
<line x1="392.50" y1="459.50" x2="396.50" y2="459.50" stroke="#333" stroke-width="1" />
<text x="390.50" y="464.10" font-size="15.6" text-anchor="end" fill="#111" >0</text>
<line x1="394.50" y1="443.21" x2="396.50" y2="443.21" stroke="#333" stroke-width="1" />
<line x1="392.50" y1="426.92" x2="396.50" y2="426.92" stroke="#333" stroke-width="1" />
<text x="390.50" y="431.52" font-size="15.6" text-anchor="end" fill="#111" >2</text>
<line x1="394.50" y1="410.63" x2="396.50" y2="410.63" stroke="#333" stroke-width="1" />
<line x1="392.50" y1="394.34" x2="396.50" y2="394.34" stroke="#333" stroke-width="1" />
<text x="390.50" y="398.94" font-size="15.6" text-anchor="end" fill="#111" >4</text>
<line x1="394.50" y1="378.05" x2="396.50" y2="378.05" stroke="#333" stroke-width="1" />
<line x1="392.50" y1="361.76" x2="396.50" y2="361.76" stroke="#333" stroke-width="1" />
<text x="390.50" y="366.36" font-size="15.6" text-anchor="end" fill="#111" >6</text>
<line x1="394.50" y1="345.47" x2="396.50" y2="345.47" stroke="#333" stroke-width="1" />
<line x1="392.50" y1="329.18" x2="396.50" y2="329.18" stroke="#333" stroke-width="1" />
<text x="390.50" y="333.78" font-size="15.6" text-anchor="end" fill="#111" >8</text>
<line x1="394.50" y1="312.89" x2="396.50" y2="312.89" stroke="#333" stroke-width="1" />
<line x1="392.50" y1="296.60" x2="396.50" y2="296.60" stroke="#333" stroke-width="1" />
<text x="390.50" y="301.20" font-size="15.6" text-anchor="end" fill="#111" >10</text>
<line x1="394.50" y1="280.31" x2="396.50" y2="280.31" stroke="#333" stroke-width="1" />
<line x1="392.50" y1="264.02" x2="396.50" y2="264.02" stroke="#333" stroke-width="1" />
<text x="390.50" y="268.62" font-size="15.6" text-anchor="end" fill="#111" >12</text>
<path d="M396.60 459.50L398.50 442.00L402.00 412.00L405.50 385.00L408.00 366.00L411.00 348.00L414.50 333.00L418.00 318.00L421.00 304.50L423.50 297.00L425.50 292.00L427.30 310.00L430.50 345.00L433.50 337.00L436.50 329.50L439.75 322.50L444.75 312.50L451.00 309.50L458.50 307.50L464.25 305.25L469.75 309.50L474.75 311.75L483.50 310.75L493.50 316.25L498.50 317.00L504.00 319.50L512.75 325.00L517.75 326.75L522.00 326.75L527.75 331.75L535.25 335.75L541.50 337.00L549.00 341.75L559.50 350.75L566.50 350.75L571.00 351.50L575.25 353.00L579.00 352.75L584.00 353.75L592.75 353.00L600.25 356.25L607.00 359.25L612.75 359.25L620.25 362.00L625.25 368.75L632.75 372.75" fill="none" stroke="#1a1a1a" stroke-width="1.4" stroke-linejoin="round"/>
<text x="525.00" y="511.00" font-size="20.3" text-anchor="middle" fill="#111" >Strain (%)</text>
<text transform="translate(363.10 353.40) rotate(-90)" font-size="16.4" text-anchor="middle" fill="#111" >Stress (Mpa)</text>
<text x="353.30" y="264.60" font-size="27" text-anchor="start" fill="#111" >d</text>
<line x1="201.00" y1="550.00" x2="201.00" y2="1000.30" stroke="#3a3a3a" stroke-width="1" stroke-dasharray="2.6 2.2" shape-rendering="crispEdges"/>
<line x1="245.00" y1="550.00" x2="245.00" y2="1000.30" stroke="#3a3a3a" stroke-width="1" stroke-dasharray="2.6 2.2" shape-rendering="crispEdges"/>
<line x1="261.00" y1="550.00" x2="261.00" y2="1000.30" stroke="#3a3a3a" stroke-width="1" stroke-dasharray="2.6 2.2" shape-rendering="crispEdges"/>
<line x1="440.00" y1="550.00" x2="440.00" y2="1000.30" stroke="#3a3a3a" stroke-width="1" stroke-dasharray="2.6 2.2" shape-rendering="crispEdges"/>
<line x1="457.50" y1="550.00" x2="457.50" y2="1000.30" stroke="#3a3a3a" stroke-width="1" stroke-dasharray="2.6 2.2" shape-rendering="crispEdges"/>
<line x1="478.00" y1="550.00" x2="478.00" y2="1000.30" stroke="#3a3a3a" stroke-width="1" stroke-dasharray="2.6 2.2" shape-rendering="crispEdges"/>
<line x1="497.00" y1="550.00" x2="497.00" y2="1000.30" stroke="#3a3a3a" stroke-width="1" stroke-dasharray="2.6 2.2" shape-rendering="crispEdges"/>
<line x1="518.50" y1="550.00" x2="518.50" y2="1000.30" stroke="#3a3a3a" stroke-width="1" stroke-dasharray="2.6 2.2" shape-rendering="crispEdges"/>
<path d="M118.75 986.75C120.21 986.58 124.79 986.17 127.50 985.75C130.21 985.33 132.50 984.79 135.00 984.25C137.50 983.71 140.00 983.12 142.50 982.50C145.00 981.88 148.25 981.25 150.00 980.50C151.75 979.75 152.25 977.46 153.00 978.00C153.75 978.54 154.04 982.08 154.50 983.75C154.96 985.42 155.17 987.79 155.75 988.00C156.33 988.21 157.17 985.92 158.00 985.00C158.83 984.08 159.92 984.17 160.75 982.50C161.58 980.83 162.21 979.17 163.00 975.00C163.79 970.83 164.54 964.58 165.50 957.50C166.46 950.42 167.58 940.83 168.75 932.50C169.92 924.17 171.25 915.00 172.50 907.50C173.75 900.00 175.00 893.54 176.25 887.50C177.50 881.46 178.54 877.08 180.00 871.25C181.46 865.42 183.33 857.92 185.00 852.50C186.67 847.08 188.33 842.29 190.00 838.75C191.67 835.21 193.54 832.92 195.00 831.25C196.46 829.58 197.50 828.88 198.75 828.75C200.00 828.62 201.25 829.58 202.50 830.50C203.75 831.42 205.00 833.25 206.25 834.25C207.50 835.25 208.75 836.25 210.00 836.50C211.25 836.75 212.58 835.92 213.75 835.75C214.92 835.58 215.96 834.58 217.00 835.50C218.04 836.42 218.88 838.42 220.00 841.25C221.12 844.08 222.50 848.96 223.75 852.50C225.00 856.04 226.04 858.54 227.50 862.50C228.96 866.46 231.04 872.50 232.50 876.25C233.96 880.00 235.00 882.71 236.25 885.00C237.50 887.29 238.75 889.25 240.00 890.00C241.25 890.75 242.71 889.71 243.75 889.50C244.79 889.29 245.50 888.25 246.25 888.75C247.00 889.25 247.42 890.21 248.25 892.50C249.08 894.79 250.21 899.79 251.25 902.50C252.29 905.21 253.54 908.33 254.50 908.75C255.46 909.17 256.17 906.67 257.00 905.00C257.83 903.33 258.58 900.00 259.50 898.75C260.42 897.50 261.50 898.42 262.50 897.50C263.50 896.58 264.67 893.25 265.50 893.25C266.33 893.25 266.75 895.75 267.50 897.50C268.25 899.25 268.96 902.08 270.00 903.75C271.04 905.42 272.71 905.21 273.75 907.50C274.79 909.79 275.54 915.08 276.25 917.50C276.96 919.92 277.08 919.50 278.00 922.00C278.92 924.50 280.29 928.88 281.75 932.50C283.21 936.12 284.88 940.21 286.75 943.75C288.62 947.29 290.92 950.96 293.00 953.75C295.08 956.54 297.38 958.83 299.25 960.50C301.12 962.17 302.79 963.00 304.25 963.75C305.71 964.50 306.75 964.29 308.00 965.00C309.25 965.71 310.08 966.67 311.75 968.00C313.42 969.33 315.71 971.62 318.00 973.00C320.29 974.38 323.00 975.08 325.50 976.25C328.00 977.42 330.71 978.75 333.00 980.00C335.29 981.25 337.58 982.71 339.25 983.75C340.92 984.79 342.12 985.42 343.00 986.25C343.88 987.08 343.88 988.62 344.50 988.75C345.12 988.88 346.08 987.08 346.75 987.00C347.42 986.92 347.46 988.25 348.50 988.25C349.54 988.25 350.58 987.46 353.00 987.00C355.42 986.54 359.67 985.96 363.00 985.50C366.33 985.04 370.08 984.42 373.00 984.25C375.92 984.08 378.00 984.38 380.50 984.50C383.00 984.62 385.92 985.04 388.00 985.00C390.08 984.96 391.12 984.88 393.00 984.25C394.88 983.62 397.17 982.58 399.25 981.25C401.33 979.92 403.62 978.33 405.50 976.25C407.38 974.17 408.83 971.88 410.50 968.75C412.17 965.62 413.83 961.88 415.50 957.50C417.17 953.12 419.04 947.50 420.50 942.50C421.96 937.50 423.08 932.92 424.25 927.50C425.42 922.08 426.54 916.25 427.50 910.00C428.46 903.75 429.29 895.83 430.00 890.00C430.71 884.17 431.17 879.38 431.75 875.00C432.33 870.62 432.88 866.67 433.50 863.75C434.12 860.83 434.75 859.58 435.50 857.50C436.25 855.42 437.17 853.25 438.00 851.25C438.83 849.25 439.67 847.04 440.50 845.50C441.33 843.96 442.25 841.67 443.00 842.00C443.75 842.33 444.42 843.25 445.00 847.50C445.58 851.75 446.00 860.83 446.50 867.50C447.00 874.17 447.50 882.38 448.00 887.50C448.50 892.62 449.00 897.83 449.50 898.25C450.00 898.67 450.42 894.29 451.00 890.00C451.58 885.71 452.33 877.50 453.00 872.50C453.67 867.50 454.33 863.25 455.00 860.00C455.67 856.75 456.38 854.46 457.00 853.00C457.62 851.54 458.17 850.71 458.75 851.25C459.33 851.79 459.88 853.12 460.50 856.25C461.12 859.38 461.88 865.62 462.50 870.00C463.12 874.38 463.75 879.58 464.25 882.50C464.75 885.42 465.04 887.92 465.50 887.50C465.96 887.08 466.46 883.12 467.00 880.00C467.54 876.88 468.17 870.83 468.75 868.75C469.33 866.67 469.96 867.29 470.50 867.50C471.04 867.71 471.54 871.25 472.00 870.00C472.46 868.75 472.75 864.17 473.25 860.00C473.75 855.83 474.46 849.38 475.00 845.00C475.54 840.62 476.08 836.25 476.50 833.75C476.92 831.25 477.17 829.38 477.50 830.00C477.83 830.62 478.17 832.50 478.50 837.50C478.83 842.50 479.12 852.08 479.50 860.00C479.88 867.92 480.33 877.92 480.75 885.00C481.17 892.08 481.50 898.12 482.00 902.50C482.50 906.88 483.12 908.54 483.75 911.25C484.38 913.96 485.12 916.67 485.75 918.75C486.38 920.83 486.88 922.50 487.50 923.75C488.12 925.00 488.88 926.25 489.50 926.25C490.12 926.25 490.62 925.42 491.25 923.75C491.88 922.08 492.62 918.75 493.25 916.25C493.88 913.75 494.46 911.46 495.00 908.75C495.54 906.04 496.00 902.50 496.50 900.00C497.00 897.50 497.50 894.38 498.00 893.75C498.50 893.12 499.00 894.58 499.50 896.25C500.00 897.92 500.50 901.46 501.00 903.75C501.50 906.04 502.00 908.54 502.50 910.00C503.00 911.46 503.50 913.12 504.00 912.50C504.50 911.88 505.00 908.96 505.50 906.25C506.00 903.54 506.50 898.88 507.00 896.25C507.50 893.62 507.92 891.62 508.50 890.50C509.08 889.38 509.83 890.83 510.50 889.50C511.17 888.17 511.83 885.12 512.50 882.50C513.17 879.88 513.88 875.83 514.50 873.75C515.12 871.67 515.67 871.67 516.25 870.00C516.83 868.33 517.46 865.92 518.00 863.75C518.54 861.58 519.04 858.25 519.50 857.00C519.96 855.75 520.25 855.33 520.75 856.25C521.25 857.17 521.88 858.96 522.50 862.50C523.12 866.04 523.75 871.25 524.50 877.50C525.25 883.75 526.17 892.92 527.00 900.00C527.83 907.08 528.67 913.75 529.50 920.00C530.33 926.25 531.17 932.08 532.00 937.50C532.83 942.92 533.58 948.33 534.50 952.50C535.42 956.67 536.58 959.58 537.50 962.50C538.42 965.42 539.17 967.50 540.00 970.00C540.83 972.50 541.67 975.00 542.50 977.50C543.33 980.00 544.17 982.83 545.00 985.00C545.83 987.17 546.75 990.00 547.50 990.50C548.25 991.00 548.88 988.29 549.50 988.00C550.12 987.71 550.67 989.46 551.25 988.75C551.83 988.04 552.38 985.08 553.00 983.75C553.62 982.42 554.33 981.04 555.00 980.75C555.67 980.46 556.25 982.96 557.00 982.00C557.75 981.04 558.58 977.83 559.50 975.00C560.42 972.17 561.38 968.33 562.50 965.00C563.62 961.67 565.00 957.83 566.25 955.00C567.50 952.17 568.73 949.68 570.00 948.00C571.27 946.32 572.67 946.58 573.90 944.90C575.13 943.22 576.32 940.32 577.40 937.90C578.48 935.48 579.58 931.88 580.40 930.40C581.22 928.92 581.63 928.13 582.30 929.00C582.97 929.87 583.67 932.75 584.40 935.60C585.13 938.45 585.92 943.18 586.70 946.10C587.48 949.02 588.38 951.82 589.10 953.10C589.82 954.38 590.42 953.28 591.00 953.80C591.58 954.32 592.02 956.70 592.60 956.20C593.18 955.70 593.80 955.02 594.50 950.80C595.20 946.58 596.02 936.95 596.80 930.90C597.58 924.85 598.53 918.33 599.20 914.50C599.87 910.67 600.27 909.07 600.80 907.90C601.33 906.73 601.90 906.02 602.40 907.50C602.90 908.98 603.25 911.73 603.80 916.80C604.35 921.87 605.03 931.85 605.70 937.90C606.37 943.95 607.13 949.00 607.80 953.10C608.47 957.20 609.18 959.25 609.70 962.50C610.22 965.75 610.52 972.72 610.90 972.60C611.28 972.48 611.82 963.60 612.00 961.80" fill="none" stroke="#d8101a" stroke-width="2.3" stroke-linejoin="round" stroke-linecap="round"/>
<path d="M118.75 890.50C119.79 890.00 122.71 888.62 125.00 887.50C127.29 886.38 130.00 884.88 132.50 883.75C135.00 882.62 137.50 881.58 140.00 880.75C142.50 879.92 145.62 879.29 147.50 878.75C149.38 878.21 150.33 878.21 151.25 877.50C152.17 876.79 152.46 874.08 153.00 874.50C153.54 874.92 154.04 878.58 154.50 880.00C154.96 881.42 155.17 883.00 155.75 883.00C156.33 883.00 157.17 880.79 158.00 880.00C158.83 879.21 159.92 879.92 160.75 878.25C161.58 876.58 162.21 874.29 163.00 870.00C163.79 865.71 164.54 860.42 165.50 852.50C166.46 844.58 167.58 832.92 168.75 822.50C169.92 812.08 171.25 800.42 172.50 790.00C173.75 779.58 174.92 770.00 176.25 760.00C177.58 750.00 179.04 739.17 180.50 730.00C181.96 720.83 183.42 713.33 185.00 705.00C186.58 696.67 188.42 687.29 190.00 680.00C191.58 672.71 193.25 666.04 194.50 661.25C195.75 656.46 196.50 653.62 197.50 651.25C198.50 648.88 199.46 647.83 200.50 647.00C201.54 646.17 202.58 646.08 203.75 646.25C204.92 646.42 206.25 647.25 207.50 648.00C208.75 648.75 209.79 649.79 211.25 650.75C212.71 651.71 215.00 652.42 216.25 653.75C217.50 655.08 217.92 656.04 218.75 658.75C219.58 661.46 220.29 665.83 221.25 670.00C222.21 674.17 223.25 679.38 224.50 683.75C225.75 688.12 227.42 691.88 228.75 696.25C230.08 700.62 231.25 704.79 232.50 710.00C233.75 715.21 235.00 722.71 236.25 727.50C237.50 732.29 238.96 736.25 240.00 738.75C241.04 741.25 241.46 741.67 242.50 742.50C243.54 743.33 245.21 742.92 246.25 743.75C247.29 744.58 247.79 745.21 248.75 747.50C249.71 749.79 250.96 754.38 252.00 757.50C253.04 760.62 254.29 764.38 255.00 766.25C255.71 768.12 255.75 769.38 256.25 768.75C256.75 768.12 257.38 766.04 258.00 762.50C258.62 758.96 259.42 751.25 260.00 747.50C260.58 743.75 260.92 740.62 261.50 740.00C262.08 739.38 262.83 743.00 263.50 743.75C264.17 744.50 264.83 743.46 265.50 744.50C266.17 745.54 266.83 746.38 267.50 750.00C268.17 753.62 268.83 762.08 269.50 766.25C270.17 770.42 270.83 773.33 271.50 775.00C272.17 776.67 272.83 774.58 273.50 776.25C274.17 777.92 274.75 781.04 275.50 785.00C276.25 788.96 277.17 796.08 278.00 800.00C278.83 803.92 279.46 805.17 280.50 808.50C281.54 811.83 282.79 816.00 284.25 820.00C285.71 824.00 287.38 828.54 289.25 832.50C291.12 836.46 293.21 840.42 295.50 843.75C297.79 847.08 300.50 849.79 303.00 852.50C305.50 855.21 308.00 857.71 310.50 860.00C313.00 862.29 315.50 864.25 318.00 866.25C320.50 868.25 323.00 870.12 325.50 872.00C328.00 873.88 330.50 875.83 333.00 877.50C335.50 879.17 338.62 880.96 340.50 882.00C342.38 883.04 343.42 883.22 344.25 883.75C345.08 884.28 345.04 885.06 345.50 885.20C345.96 885.34 346.17 884.43 347.00 884.60C347.83 884.77 348.67 885.98 350.50 886.25C352.33 886.52 355.08 886.25 358.00 886.25C360.92 886.25 364.67 886.04 368.00 886.25C371.33 886.46 375.08 886.96 378.00 887.50C380.92 888.04 383.21 889.04 385.50 889.50C387.79 889.96 389.67 890.29 391.75 890.25C393.83 890.21 395.92 890.00 398.00 889.25C400.08 888.50 402.38 887.29 404.25 885.75C406.12 884.21 407.58 882.62 409.25 880.00C410.92 877.38 412.79 873.75 414.25 870.00C415.71 866.25 416.75 862.50 418.00 857.50C419.25 852.50 420.58 846.67 421.75 840.00C422.92 833.33 424.04 825.00 425.00 817.50C425.96 810.00 426.79 802.50 427.50 795.00C428.21 787.50 428.67 780.00 429.25 772.50C429.83 765.00 430.38 760.83 431.00 750.00C431.62 739.17 432.42 720.83 433.00 707.50C433.58 694.17 434.04 681.25 434.50 670.00C434.96 658.75 435.25 648.33 435.75 640.00C436.25 631.67 436.88 625.83 437.50 620.00C438.12 614.17 439.00 608.25 439.50 605.00C440.00 601.75 440.08 600.08 440.50 600.50C440.92 600.92 441.54 603.42 442.00 607.50C442.46 611.58 442.83 617.92 443.25 625.00C443.67 632.08 444.08 640.42 444.50 650.00C444.92 659.58 445.33 671.67 445.75 682.50C446.17 693.33 446.58 707.08 447.00 715.00C447.42 722.92 447.92 726.88 448.25 730.00C448.58 733.12 448.71 734.17 449.00 733.75C449.29 733.33 449.62 732.29 450.00 727.50C450.38 722.71 450.83 712.92 451.25 705.00C451.67 697.08 452.04 687.92 452.50 680.00C452.96 672.08 453.50 663.00 454.00 657.50C454.50 652.00 454.92 649.08 455.50 647.00C456.08 644.92 456.88 645.00 457.50 645.00C458.12 645.00 458.75 644.92 459.25 647.00C459.75 649.08 460.08 652.00 460.50 657.50C460.92 663.00 461.33 671.25 461.75 680.00C462.17 688.75 462.62 702.08 463.00 710.00C463.38 717.92 463.75 724.08 464.00 727.50C464.25 730.92 464.25 731.33 464.50 730.50C464.75 729.67 465.08 726.75 465.50 722.50C465.92 718.25 466.50 710.00 467.00 705.00C467.50 700.00 467.92 695.83 468.50 692.50C469.08 689.17 469.92 687.92 470.50 685.00C471.08 682.08 471.50 681.67 472.00 675.00C472.50 668.33 473.00 657.08 473.50 645.00C474.00 632.92 474.54 615.00 475.00 602.50C475.46 590.00 475.83 578.12 476.25 570.00C476.67 561.88 477.12 553.75 477.50 553.75C477.88 553.75 478.21 561.04 478.50 570.00C478.79 578.96 479.00 592.92 479.25 607.50C479.50 622.08 479.71 642.08 480.00 657.50C480.29 672.92 480.67 687.08 481.00 700.00C481.33 712.92 481.62 725.00 482.00 735.00C482.38 745.00 482.83 753.75 483.25 760.00C483.67 766.25 484.08 769.50 484.50 772.50C484.92 775.50 485.25 776.75 485.75 778.00C486.25 779.25 486.92 778.96 487.50 780.00C488.08 781.04 488.62 783.17 489.25 784.25C489.88 785.33 490.58 786.58 491.25 786.50C491.92 786.42 492.62 785.46 493.25 783.75C493.88 782.04 494.38 778.54 495.00 776.25C495.62 773.96 496.42 770.42 497.00 770.00C497.58 769.58 498.00 771.67 498.50 773.75C499.00 775.83 499.42 779.79 500.00 782.50C500.58 785.21 501.38 788.21 502.00 790.00C502.62 791.79 503.17 793.46 503.75 793.25C504.33 793.04 504.96 790.33 505.50 788.75C506.04 787.17 506.46 784.29 507.00 783.75C507.54 783.21 508.25 784.96 508.75 785.50C509.25 786.04 509.50 787.92 510.00 787.00C510.50 786.08 511.12 782.42 511.75 780.00C512.38 777.58 513.00 774.29 513.75 772.50C514.50 770.71 515.46 770.17 516.25 769.25C517.04 768.33 517.79 766.67 518.50 767.00C519.21 767.33 519.83 768.25 520.50 771.25C521.17 774.25 521.83 780.21 522.50 785.00C523.17 789.79 523.88 795.42 524.50 800.00C525.12 804.58 525.54 807.08 526.25 812.50C526.96 817.92 527.92 826.04 528.75 832.50C529.58 838.96 530.42 845.62 531.25 851.25C532.08 856.88 532.92 862.38 533.75 866.25C534.58 870.12 535.21 872.62 536.25 874.50C537.29 876.38 538.75 876.25 540.00 877.50C541.25 878.75 542.58 880.67 543.75 882.00C544.92 883.33 546.12 884.79 547.00 885.50C547.88 886.21 548.29 886.75 549.00 886.25C549.71 885.75 550.58 884.58 551.25 882.50C551.92 880.42 552.50 877.08 553.00 873.75C553.50 870.42 553.71 864.67 554.25 862.50C554.79 860.33 555.50 861.58 556.25 860.75C557.00 859.92 557.71 858.96 558.75 857.50C559.79 856.04 561.21 853.58 562.50 852.00C563.79 850.42 565.32 850.85 566.50 848.00C567.68 845.15 568.57 838.25 569.60 834.90C570.63 831.55 571.68 830.43 572.70 827.90C573.72 825.37 574.65 822.12 575.70 819.70C576.75 817.28 577.93 814.97 579.00 813.40C580.07 811.83 581.08 810.03 582.10 810.30C583.12 810.57 584.13 812.65 585.10 815.00C586.07 817.35 587.03 820.88 587.90 824.40C588.77 827.92 589.60 833.37 590.30 836.10C591.00 838.83 591.52 841.00 592.10 840.80C592.68 840.60 593.13 838.62 593.80 834.90C594.47 831.18 595.20 823.97 596.10 818.50C597.00 813.03 598.33 806.20 599.20 802.10C600.07 798.00 600.65 793.90 601.30 793.90C601.95 793.90 602.52 796.83 603.10 802.10C603.68 807.37 604.20 817.68 604.80 825.50C605.40 833.32 606.00 843.13 606.70 849.00C607.40 854.87 608.30 857.58 609.00 860.70C609.70 863.82 610.40 867.52 610.90 867.70C611.40 867.88 611.82 862.78 612.00 861.80" fill="none" stroke="#000" stroke-width="2.4" stroke-linejoin="round" stroke-linecap="round"/>
<rect x="50.80" y="550.00" width="615.80" height="450.30" fill="none" stroke="#000" stroke-width="1.8"/>
<line x1="666.60" y1="1000.30" x2="666.60" y2="1009.70" stroke="#000" stroke-width="1.8" />
<text x="666.60" y="1030.20" font-size="18" text-anchor="middle" fill="#000" >0</text>
<line x1="632.39" y1="1000.30" x2="632.39" y2="1005.90" stroke="#000" stroke-width="1.8" />
<line x1="598.18" y1="1000.30" x2="598.18" y2="1009.70" stroke="#000" stroke-width="1.8" />
<text x="598.18" y="1030.20" font-size="18" text-anchor="middle" fill="#000" >500</text>
<line x1="563.97" y1="1000.30" x2="563.97" y2="1005.90" stroke="#000" stroke-width="1.8" />
<line x1="529.76" y1="1000.30" x2="529.76" y2="1009.70" stroke="#000" stroke-width="1.8" />
<text x="529.76" y="1030.20" font-size="18" text-anchor="middle" fill="#000" >1000</text>
<line x1="495.54" y1="1000.30" x2="495.54" y2="1005.90" stroke="#000" stroke-width="1.8" />
<line x1="461.33" y1="1000.30" x2="461.33" y2="1009.70" stroke="#000" stroke-width="1.8" />
<text x="461.33" y="1030.20" font-size="18" text-anchor="middle" fill="#000" >1500</text>
<line x1="427.12" y1="1000.30" x2="427.12" y2="1005.90" stroke="#000" stroke-width="1.8" />
<line x1="392.91" y1="1000.30" x2="392.91" y2="1009.70" stroke="#000" stroke-width="1.8" />
<text x="392.91" y="1030.20" font-size="18" text-anchor="middle" fill="#000" >2000</text>
<line x1="358.70" y1="1000.30" x2="358.70" y2="1005.90" stroke="#000" stroke-width="1.8" />
<line x1="324.49" y1="1000.30" x2="324.49" y2="1009.70" stroke="#000" stroke-width="1.8" />
<text x="324.49" y="1030.20" font-size="18" text-anchor="middle" fill="#000" >2500</text>
<line x1="290.28" y1="1000.30" x2="290.28" y2="1005.90" stroke="#000" stroke-width="1.8" />
<line x1="256.07" y1="1000.30" x2="256.07" y2="1009.70" stroke="#000" stroke-width="1.8" />
<text x="256.07" y="1030.20" font-size="18" text-anchor="middle" fill="#000" >3000</text>
<line x1="221.86" y1="1000.30" x2="221.86" y2="1005.90" stroke="#000" stroke-width="1.8" />
<line x1="187.64" y1="1000.30" x2="187.64" y2="1009.70" stroke="#000" stroke-width="1.8" />
<text x="187.64" y="1030.20" font-size="18" text-anchor="middle" fill="#000" >3500</text>
<line x1="153.43" y1="1000.30" x2="153.43" y2="1005.90" stroke="#000" stroke-width="1.8" />
<line x1="119.22" y1="1000.30" x2="119.22" y2="1009.70" stroke="#000" stroke-width="1.8" />
<text x="119.22" y="1030.20" font-size="18" text-anchor="middle" fill="#000" >4000</text>
<line x1="85.01" y1="1000.30" x2="85.01" y2="1005.90" stroke="#000" stroke-width="1.8" />
<line x1="50.80" y1="1000.30" x2="50.80" y2="1009.70" stroke="#000" stroke-width="1.8" />
<text x="50.80" y="1030.20" font-size="18" text-anchor="middle" fill="#000" >4500</text>
<text x="203.75" y="546.25" font-size="12.8" text-anchor="middle" fill="#222" textLength="24.5" lengthAdjust="spacingAndGlyphs">3270</text>
<text x="243.50" y="535.50" font-size="12.8" text-anchor="middle" fill="#222" textLength="24.5" lengthAdjust="spacingAndGlyphs">3050</text>
<text x="261.50" y="546.25" font-size="12.8" text-anchor="middle" fill="#222" textLength="24.5" lengthAdjust="spacingAndGlyphs">2920</text>
<text x="439.50" y="534.50" font-size="12.8" text-anchor="middle" fill="#222" textLength="24.5" lengthAdjust="spacingAndGlyphs">1650</text>
<text x="479.50" y="534.50" font-size="12.8" text-anchor="middle" fill="#222" textLength="24.5" lengthAdjust="spacingAndGlyphs">1450</text>
<text x="520.00" y="534.50" font-size="12.8" text-anchor="middle" fill="#222" textLength="24.5" lengthAdjust="spacingAndGlyphs">1116</text>
<text x="460.50" y="545.75" font-size="12.8" text-anchor="middle" fill="#222" textLength="24.5" lengthAdjust="spacingAndGlyphs">1540</text>
<text x="500.00" y="545.75" font-size="12.8" text-anchor="middle" fill="#222" textLength="24.5" lengthAdjust="spacingAndGlyphs">1240</text>
<rect x="537" y="566.75" width="110.25" height="54" fill="#fff" stroke="#333" stroke-width="1"/>
<line x1="539.00" y1="580.00" x2="590.25" y2="580.00" stroke="#000" stroke-width="2.2" />
<line x1="539.00" y1="608.00" x2="590.25" y2="608.00" stroke="#d8101a" stroke-width="2.2" />
<text x="597.00" y="588.00" font-size="21.6" text-anchor="start" fill="#000" >Faux</text>
<text x="597.00" y="615.50" font-size="21.6" text-anchor="start" fill="#000" >Real</text>
<text x="378.5" y="1063" font-size="18.1" text-anchor="middle" fill="#000">Wavenumbers (cm<tspan font-size="11.5" dy="-7">-1</tspan><tspan dy="7">)</tspan></text>
<text transform="translate(33.70 779.70) rotate(-90)" font-size="18.2" text-anchor="middle" fill="#000" >Absorbance (a.u.)</text>
<text x="12.30" y="546.90" font-size="25" text-anchor="start" fill="#111" >e</text>
</svg>
</body></html>
